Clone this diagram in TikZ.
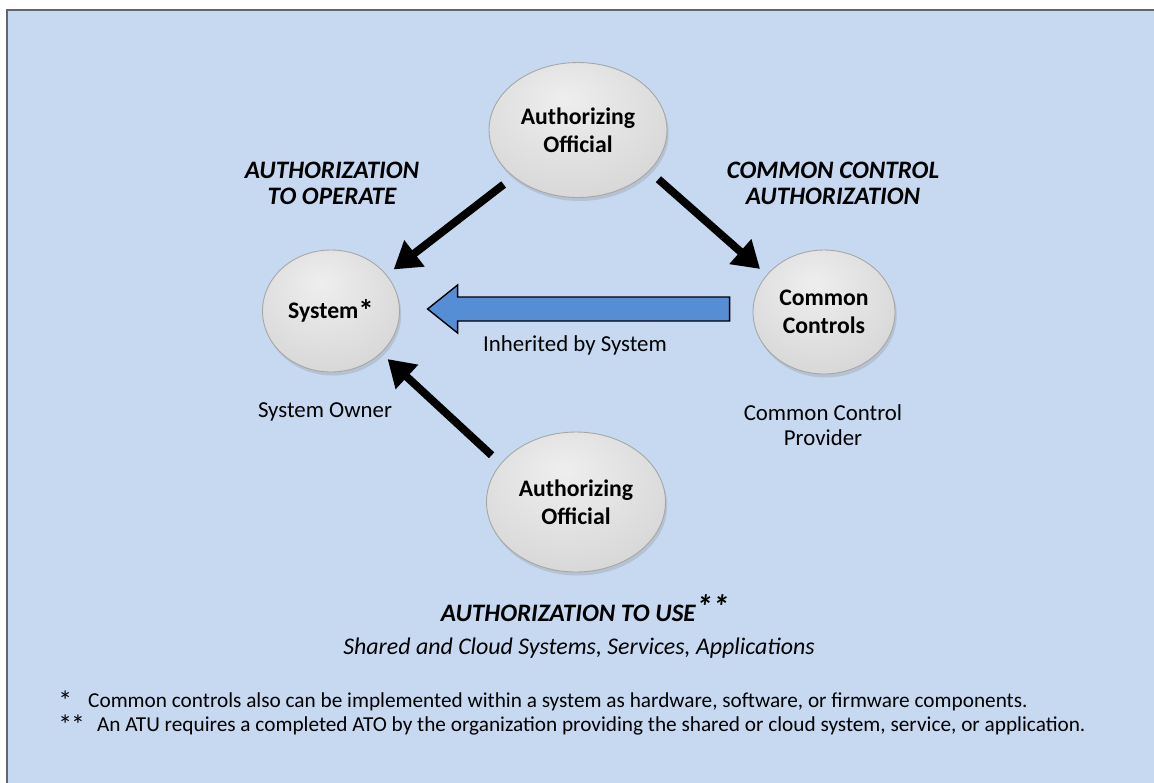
\documentclass[tikz,border=0pt]{standalone}
\usepackage{fontspec}
\setmainfont{Carlito}
\usepackage{tikz}
\usetikzlibrary{arrows.meta}
\usetikzlibrary{shapes.geometric}
\usetikzlibrary{shadows}

\definecolor{panel}{RGB}{198,217,241}
\definecolor{panelrim}{RGB}{98,102,110}
\definecolor{arrowblue}{RGB}{85,142,213}
\pgfdeclareradialshading{bubble}{\pgfpoint{-4bp}{12bp}}{%
  color(0bp)=(gray!13); color(18bp)=(gray!23); color(32bp)=(gray!31);
  color(44bp)=(gray!41); color(52bp)=(gray!53); color(66bp)=(gray!63)}
\newcommand{\starmark}{\raisebox{-0.3ex}{\scalebox{1.3}{*}}}

\tikzset{
  bubble/.style = {ellipse, shade, shading = bubble, draw = gray!70, line width = 0.5pt,
                   align = center, inner sep = 0pt,
                   font = \fontsize{13.5}{16}\selectfont\bfseries,
                   drop shadow = {shadow xshift = 1pt, shadow yshift = -2pt, opacity = 0.25}},
  push/.style = {line width = 4.5pt, -{Triangle[length = 15pt, width = 18pt]},
                 shorten <= 7pt, shorten >= 5pt},
  caption/.style = {font = \fontsize{14.3}{14.8}\selectfont\bfseries\itshape, align = center},
  plain/.style = {font = \fontsize{13}{14.5}\selectfont, align = center},
  note/.style = {font = \fontsize{12.1}{13}\selectfont, anchor = base west, inner sep = 0pt,
                 text height = 8.5pt, text depth = 2.5pt}
}

\begin{document}
\begin{tikzpicture}[x = 0.02cm, y = -0.02cm]
    \useasboundingbox (0, 0) rectangle (1154, 782);
    \fill [white] (0, 0) rectangle (1154, 782);
    \begin{scope}
        \clip (0, 0) rectangle (1154, 782);
        \filldraw [fill = panel, draw = panelrim, line width = 1.2pt] (7, 10) rectangle (1180, 800);
    \end{scope}

    % the four parties
    \node [bubble, minimum width = 3.56cm, minimum height = 2.7cm] (ao) at (578, 130) {Authorizing\\Official};
    \node [bubble, minimum width = 2.74cm, minimum height = 2.44cm] (sys) at (331, 311) {System\starmark};
    \node [bubble, minimum width = 2.84cm, minimum height = 2.48cm] (cc) at (824, 312) {Common\\Controls};
    \node [bubble, minimum width = 3.58cm, minimum height = 2.8cm] (ao2) at (576, 502) {Authorizing\\Official};

    % authorizations
    \draw [push] (ao.216) -- (sys.33);
    \draw [push] (ao.-30) -- (cc.147);
    \draw [push] (ao2.153) -- (sys.-40);
    \filldraw [fill = arrowblue, draw = black, line width = 0.8pt] (cc.west) ++(-23, -15) -- ++(-272, 0)
        -- ++(0, -12) -- ++(-30, 24) -- ++(30, 24) -- ++(0, -12) -- ++(272, 0) -- cycle;

    \node [caption] (ato) at (332, 183) {AUTHORIZATION\\TO OPERATE};
    \node [caption] (cca) at (833, 183) {COMMON CONTROL\\AUTHORIZATION};
    \node [plain] (inh) at (575, 345) {Inherited by System};
    \node [plain] (owner) at (325, 412) {System Owner};
    \node [plain] (ccp) at (823, 425) {Common Control\\Provider};
    \node [caption] (atu) at (585, 608) {AUTHORIZATION TO USE\raisebox{0.2ex}{\fontsize{19}{20}\selectfont**}};
    \node [plain, font = \fontsize{13.6}{15}\selectfont\itshape] (shared) at (579, 648) {Shared and Cloud Systems, Services, Applications};

    % footnotes
    \node [note] (fn1) at (58, 707) {\makebox[17pt][l]{\starmark}Common controls also can be implemented within a system as hardware, software, or firmware components.};
    \node [note] (fn2) at (58, 731) {\makebox[22pt][l]{\starmark\kern-0.5pt\starmark}An ATU requires a completed ATO by the organization providing the shared or cloud system, service, or application.};
\end{tikzpicture}
\end{document}
